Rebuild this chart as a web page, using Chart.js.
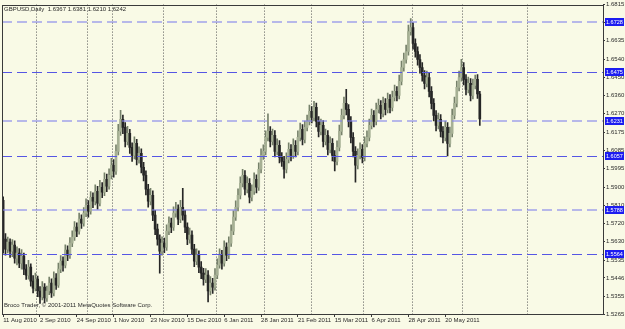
<!DOCTYPE html>
<html>
<head>
<meta charset="utf-8">
<script src="https://cdn.jsdelivr.net/npm/chart.js@4.4.0/dist/chart.umd.min.js"></script>
<style>
  html, body { margin: 0; padding: 0; background: #f9fae6; }
</style>
</head>
<body>
<canvas id="chart" width="625" height="329"></canvas>
<script>
// GBPUSD daily bars
const symbolTitle = 'GBPUSD,Daily  1.6367 1.6381 1.6210 1.6242';
const copyrightText = 'Broco Trader, \u00a9 2001-2011 MetaQuotes Software Corp.';

const dateLabels = ['11 Aug 2010', '2 Sep 2010', '24 Sep 2010', '1 Nov 2010', '23 Nov 2010', '15 Dec 2010',
  '6 Jan 2011', '28 Jan 2011', '21 Feb 2011', '15 Mar 2011', '6 Apr 2011', '28 Apr 2011', '20 May 2011'];
const labelEvery = 16;
const totalSlots = 261; // bars + empty shift on the right
const monthStarts = [15, 37, 48, 70, 93, 114, 134, 157, 178, 200, 228];

const priceTicks = [1.6815, 1.6725, 1.6635, 1.6540, 1.6450, 1.6360, 1.6270, 1.6175, 1.6085, 1.5995,
  1.5900, 1.5810, 1.5720, 1.5630, 1.5535, 1.5446, 1.5355, 1.5265];
const levels = [1.6728, 1.6475, 1.6231, 1.6057, 1.5788, 1.5564];

const opens = [
  1.5835, 1.5640, 1.5590, 1.5625, 1.5580, 1.5610, 1.5545, 1.5570, 1.5520, 1.5555,
  1.5490, 1.5460, 1.5500, 1.5430, 1.5395, 1.5440, 1.5380, 1.5350, 1.5400, 1.5345,
  1.5380, 1.5420, 1.5370, 1.5445, 1.5410, 1.5490, 1.5530, 1.5510, 1.5585, 1.5560,
  1.5620, 1.5650, 1.5700, 1.5680, 1.5740, 1.5720, 1.5770, 1.5810, 1.5780, 1.5850,
  1.5830, 1.5880, 1.5820, 1.5900, 1.5875, 1.5940, 1.5905, 1.5960, 1.6010, 1.5980,
  1.6080, 1.6180, 1.6240, 1.6200, 1.6130, 1.6170, 1.6100, 1.6060, 1.6120, 1.6040,
  1.6070, 1.6000, 1.5960, 1.5890, 1.5830, 1.5860, 1.5760, 1.5690, 1.5640, 1.5580,
  1.5620, 1.5600, 1.5680, 1.5720, 1.5700, 1.5770, 1.5790, 1.5740, 1.5800, 1.5760,
  1.5700, 1.5640, 1.5660, 1.5590, 1.5530, 1.5560, 1.5500, 1.5470, 1.5440, 1.5460,
  1.5380, 1.5420, 1.5400, 1.5460, 1.5510, 1.5560, 1.5520, 1.5600, 1.5560, 1.5620,
  1.5680, 1.5750, 1.5800, 1.5860, 1.5920, 1.5960, 1.5890, 1.5920, 1.5850, 1.5880,
  1.5940, 1.5900, 1.5990, 1.6060, 1.6080, 1.6150, 1.6180, 1.6130, 1.6160, 1.6080,
  1.6110, 1.6050, 1.6030, 1.5990, 1.6040, 1.6090, 1.6060, 1.6110, 1.6080, 1.6150,
  1.6190, 1.6140, 1.6200, 1.6230, 1.6280, 1.6250, 1.6300, 1.6230, 1.6180, 1.6210,
  1.6130, 1.6160, 1.6090, 1.6120, 1.6060, 1.6030, 1.6100, 1.6180, 1.6260, 1.6320,
  1.6290, 1.6230, 1.6150, 1.6080, 1.6010, 1.6060, 1.6090, 1.6050, 1.6120, 1.6150,
  1.6210, 1.6260, 1.6230, 1.6290, 1.6310, 1.6270, 1.6320, 1.6290, 1.6340, 1.6300,
  1.6350, 1.6380, 1.6360, 1.6430, 1.6500, 1.6540, 1.6580, 1.6680, 1.6700, 1.6620,
  1.6580, 1.6540, 1.6500, 1.6460, 1.6420, 1.6450, 1.6380, 1.6320, 1.6260, 1.6210,
  1.6240, 1.6180, 1.6150, 1.6200, 1.6120, 1.6170, 1.6260, 1.6320, 1.6400, 1.6450,
  1.6500, 1.6440, 1.6390, 1.6420, 1.6360, 1.6410, 1.6440, 1.6367
];
const highs = [
  1.5852, 1.5668, 1.5650, 1.5642, 1.5638, 1.5631, 1.5602, 1.5593, 1.5588, 1.5570,
  1.5512, 1.5534, 1.5516, 1.5458, 1.5470, 1.5455, 1.5402, 1.5428, 1.5418, 1.5405,
  1.5450, 1.5441, 1.5476, 1.5468, 1.5520, 1.5558, 1.5552, 1.5612, 1.5606, 1.5648,
  1.5682, 1.5728, 1.5722, 1.5770, 1.5762, 1.5798, 1.5842, 1.5833, 1.5878, 1.5872,
  1.5912, 1.5905, 1.5935, 1.5924, 1.5972, 1.5966, 1.5992, 1.6045, 1.6038, 1.6112,
  1.6215, 1.6285, 1.6262, 1.6224, 1.6205, 1.6190, 1.6122, 1.6152, 1.6140, 1.6102,
  1.6092, 1.6025, 1.5982, 1.5915, 1.5895, 1.5882, 1.5784, 1.5715, 1.5662, 1.5652,
  1.5645, 1.5712, 1.5752, 1.5745, 1.5802, 1.5825, 1.5812, 1.5835, 1.5895, 1.5784,
  1.5722, 1.5695, 1.5682, 1.5614, 1.5592, 1.5582, 1.5528, 1.5494, 1.5492, 1.5482,
  1.5452, 1.5444, 1.5492, 1.5542, 1.5592, 1.5584, 1.5632, 1.5622, 1.5652, 1.5712,
  1.5782, 1.5832, 1.5892, 1.5952, 1.5990, 1.5984, 1.5952, 1.5944, 1.5912, 1.5972,
  1.5962, 1.6022, 1.6092, 1.6112, 1.6182, 1.6268, 1.6204, 1.6192, 1.6184, 1.6142,
  1.6134, 1.6074, 1.6055, 1.6072, 1.6122, 1.6114, 1.6142, 1.6134, 1.6182, 1.6222,
  1.6214, 1.6232, 1.6262, 1.6312, 1.6304, 1.6330, 1.6322, 1.6254, 1.6242, 1.6234,
  1.6192, 1.6184, 1.6152, 1.6144, 1.6084, 1.6132, 1.6212, 1.6292, 1.6352, 1.6391,
  1.6314, 1.6254, 1.6174, 1.6104, 1.6092, 1.6122, 1.6114, 1.6152, 1.6182, 1.6242,
  1.6292, 1.6284, 1.6322, 1.6342, 1.6334, 1.6352, 1.6344, 1.6372, 1.6364, 1.6382,
  1.6412, 1.6404, 1.6462, 1.6532, 1.6572, 1.6612, 1.6712, 1.6745, 1.6724, 1.6644,
  1.6604, 1.6564, 1.6524, 1.6484, 1.6482, 1.6474, 1.6404, 1.6344, 1.6284, 1.6272,
  1.6264, 1.6204, 1.6232, 1.6224, 1.6202, 1.6292, 1.6352, 1.6432, 1.6482, 1.6541,
  1.6524, 1.6464, 1.6452, 1.6444, 1.6442, 1.6462, 1.6464, 1.6381
];
const lows = [
  1.5570, 1.5560, 1.5571, 1.5548, 1.5552, 1.5520, 1.5511, 1.5497, 1.5490, 1.5462,
  1.5438, 1.5440, 1.5405, 1.5370, 1.5380, 1.5352, 1.5318, 1.5335, 1.5322, 1.5328,
  1.5362, 1.5348, 1.5356, 1.5388, 1.5398, 1.5472, 1.5480, 1.5496, 1.5532, 1.5544,
  1.5602, 1.5634, 1.5652, 1.5665, 1.5694, 1.5705, 1.5752, 1.5750, 1.5765, 1.5798,
  1.5812, 1.5790, 1.5806, 1.5848, 1.5858, 1.5878, 1.5890, 1.5942, 1.5950, 1.5964,
  1.6062, 1.6160, 1.6168, 1.6102, 1.6112, 1.6070, 1.6030, 1.6042, 1.6012, 1.6020,
  1.5972, 1.5932, 1.5862, 1.5800, 1.5812, 1.5732, 1.5662, 1.5610, 1.5470, 1.5560,
  1.5572, 1.5584, 1.5662, 1.5672, 1.5684, 1.5750, 1.5712, 1.5722, 1.5735, 1.5672,
  1.5612, 1.5620, 1.5562, 1.5502, 1.5512, 1.5472, 1.5442, 1.5410, 1.5422, 1.5325,
  1.5360, 1.5368, 1.5384, 1.5442, 1.5494, 1.5490, 1.5504, 1.5532, 1.5542, 1.5604,
  1.5662, 1.5734, 1.5782, 1.5842, 1.5902, 1.5862, 1.5872, 1.5822, 1.5832, 1.5864,
  1.5872, 1.5884, 1.5972, 1.6040, 1.6062, 1.6132, 1.6102, 1.6112, 1.6052, 1.6062,
  1.6022, 1.6004, 1.5946, 1.5972, 1.6022, 1.6032, 1.6044, 1.6052, 1.6062, 1.6132,
  1.6112, 1.6122, 1.6182, 1.6212, 1.6222, 1.6232, 1.6202, 1.6152, 1.6162, 1.6102,
  1.6112, 1.6062, 1.6072, 1.6032, 1.5982, 1.6012, 1.6082, 1.6162, 1.6242, 1.6262,
  1.6202, 1.6122, 1.6052, 1.5925, 1.5992, 1.6042, 1.6022, 1.6032, 1.6102, 1.6132,
  1.6192, 1.6202, 1.6212, 1.6272, 1.6242, 1.6252, 1.6262, 1.6272, 1.6272, 1.6282,
  1.6332, 1.6332, 1.6342, 1.6412, 1.6482, 1.6522, 1.6562, 1.6662, 1.6592, 1.6552,
  1.6512, 1.6472, 1.6432, 1.6392, 1.6402, 1.6352, 1.6292, 1.6232, 1.6182, 1.6192,
  1.6152, 1.6122, 1.6132, 1.6057, 1.6102, 1.6152, 1.6242, 1.6302, 1.6382, 1.6432,
  1.6412, 1.6362, 1.6372, 1.6332, 1.6342, 1.6392, 1.6345, 1.6210
];
const closes = [
  1.5640, 1.5590, 1.5625, 1.5580, 1.5610, 1.5545, 1.5570, 1.5520, 1.5555, 1.5490,
  1.5460, 1.5500, 1.5430, 1.5395, 1.5440, 1.5380, 1.5350, 1.5400, 1.5345, 1.5380,
  1.5420, 1.5370, 1.5445, 1.5410, 1.5490, 1.5530, 1.5510, 1.5585, 1.5560, 1.5620,
  1.5650, 1.5700, 1.5680, 1.5740, 1.5720, 1.5770, 1.5810, 1.5780, 1.5850, 1.5830,
  1.5880, 1.5820, 1.5900, 1.5875, 1.5940, 1.5905, 1.5960, 1.6010, 1.5980, 1.6080,
  1.6180, 1.6240, 1.6200, 1.6130, 1.6170, 1.6100, 1.6060, 1.6120, 1.6040, 1.6070,
  1.6000, 1.5960, 1.5890, 1.5830, 1.5860, 1.5760, 1.5690, 1.5640, 1.5580, 1.5620,
  1.5600, 1.5680, 1.5720, 1.5700, 1.5770, 1.5790, 1.5740, 1.5800, 1.5760, 1.5700,
  1.5640, 1.5660, 1.5590, 1.5530, 1.5560, 1.5500, 1.5470, 1.5440, 1.5460, 1.5380,
  1.5420, 1.5400, 1.5460, 1.5510, 1.5560, 1.5520, 1.5600, 1.5560, 1.5620, 1.5680,
  1.5750, 1.5800, 1.5860, 1.5920, 1.5960, 1.5890, 1.5920, 1.5850, 1.5880, 1.5940,
  1.5900, 1.5990, 1.6060, 1.6080, 1.6150, 1.6180, 1.6130, 1.6160, 1.6080, 1.6110,
  1.6050, 1.6030, 1.5990, 1.6040, 1.6090, 1.6060, 1.6110, 1.6080, 1.6150, 1.6190,
  1.6140, 1.6200, 1.6230, 1.6280, 1.6250, 1.6300, 1.6230, 1.6180, 1.6210, 1.6130,
  1.6160, 1.6090, 1.6120, 1.6060, 1.6030, 1.6100, 1.6180, 1.6260, 1.6320, 1.6290,
  1.6230, 1.6150, 1.6080, 1.6010, 1.6060, 1.6090, 1.6050, 1.6120, 1.6150, 1.6210,
  1.6260, 1.6230, 1.6290, 1.6310, 1.6270, 1.6320, 1.6290, 1.6340, 1.6300, 1.6350,
  1.6380, 1.6360, 1.6430, 1.6500, 1.6540, 1.6580, 1.6680, 1.6700, 1.6620, 1.6580,
  1.6540, 1.6500, 1.6460, 1.6420, 1.6450, 1.6380, 1.6320, 1.6260, 1.6210, 1.6240,
  1.6180, 1.6150, 1.6200, 1.6120, 1.6170, 1.6260, 1.6320, 1.6400, 1.6450, 1.6500,
  1.6440, 1.6390, 1.6420, 1.6360, 1.6410, 1.6440, 1.6367, 1.6242
];

const bgColor = '#f9fae6';
const frameColor = '#3a3a3a';
const textColor = '#2a2a2a';
const bullBody = '#a6b094';
const bullWick = '#76816a';
const bearBody = '#262626';
const bearWick = '#262626';
const smallFont = '"Liberation Sans", Arial, sans-serif';

const slotLabels = Array.from({ length: totalSlots }, (_, i) => i);
const isBull = closes.map((c, i) => c >= opens[i]);

const mt4Plugin = {
  id: 'mt4',
  beforeDraw(chart) {
    const ctx = chart.ctx;
    ctx.save();
    ctx.fillStyle = bgColor;
    ctx.fillRect(0, 0, chart.width, chart.height);
    ctx.restore();
  },
  beforeDatasetsDraw(chart) {
    const { ctx, chartArea: a, scales: { x } } = chart;
    ctx.save();
    // period separators
    ctx.strokeStyle = '#555';
    ctx.lineWidth = 1;
    ctx.setLineDash([1, 2]);
    monthStarts.forEach(idx => {
      const px = Math.round(x.getPixelForValue(idx) - 1.2) + 0.5;
      ctx.beginPath();
      ctx.moveTo(px, a.top);
      ctx.lineTo(px, a.bottom);
      ctx.stroke();
    });
    ctx.restore();
  },
  afterDatasetsDraw(chart) {
    const { ctx, chartArea: a, scales: { y } } = chart;
    ctx.save();
    // horizontal levels
    levels.forEach((lv, i) => {
      const py = Math.round(y.getPixelForValue(lv));
      const pale = i % 2 === 0;
      ctx.strokeStyle = pale ? 'rgba(130,130,235,0.55)' : '#5656e4';
      ctx.lineWidth = pale ? 2 : 1;
      ctx.setLineDash([10, 5]);
      ctx.beginPath();
      ctx.moveTo(a.left, pale ? py : py + 0.5);
      ctx.lineTo(a.right, pale ? py : py + 0.5);
      ctx.stroke();
    });
    ctx.setLineDash([]);
    // frame
    ctx.strokeStyle = frameColor;
    ctx.lineWidth = 1;
    ctx.strokeRect(Math.round(a.left) + 0.5, Math.round(a.top) + 0.5,
      Math.round(a.right - a.left), Math.round(a.bottom - a.top));
    // texts
    ctx.fillStyle = textColor;
    ctx.font = '6px ' + smallFont;
    ctx.textBaseline = 'top';
    ctx.textAlign = 'left';
    ctx.fillText(symbolTitle, 4, 6);
    ctx.fillText(copyrightText, 4, 302);
    ctx.restore();
  },
  afterDraw(chart) {
    const { ctx, chartArea: a, scales: { y } } = chart;
    ctx.save();
    ctx.font = '5.5px ' + smallFont;
    ctx.textBaseline = 'middle';
    ctx.textAlign = 'left';
    levels.forEach(lv => {
      const py = Math.round(y.getPixelForValue(lv));
      ctx.fillStyle = '#1c1cf0';
      ctx.fillRect(a.right + 2, py - 4, 19, 8);
      ctx.fillStyle = '#ffffff';
      ctx.fillText(lv.toFixed(4), a.right + 3, py + 0.5);
    });
    ctx.restore();
  }
};

new Chart(document.getElementById('chart'), {
  type: 'bar',
  data: {
    labels: slotLabels,
    datasets: [
      {
        label: 'wick',
        data: highs.map((h, i) => [lows[i], h]),
        backgroundColor: isBull.map(b => b ? bullWick : bearWick),
        barThickness: 1,
        grouped: false,
        order: 2
      },
      {
        label: 'body',
        data: opens.map((o, i) => [Math.min(o, closes[i]), Math.max(o, closes[i])]),
        backgroundColor: isBull.map(b => b ? bullBody : bearBody),
        barThickness: 2,
        grouped: false,
        order: 1
      }
    ]
  },
  options: {
    responsive: false,
    animation: false,
    events: [],
    layout: { padding: { top: 3, left: 2, right: 0, bottom: 0 } },
    plugins: { legend: { display: false }, tooltip: { enabled: false } },
    scales: {
      x: {
        offset: true,
        grid: {
          drawOnChartArea: false,
          drawTicks: true,
          tickLength: 3,
          offset: false,
          color: ctx => (ctx.index % labelEvery === 0 && ctx.index / labelEvery < dateLabels.length) ? frameColor : 'rgba(0,0,0,0)'
        },
        border: { display: true, color: frameColor },
        ticks: {
          autoSkip: false,
          maxRotation: 0,
          minRotation: 0,
          align: 'start',
          padding: 0,
          color: textColor,
          font: { family: smallFont, size: 6 },
          callback: (v, i) => (i % labelEvery === 0 && i / labelEvery < dateLabels.length) ? dateLabels[i / labelEvery] : ''
        },
        afterFit: s => { s.height = 15; }
      },
      y: {
        position: 'right',
        min: 1.5265,
        max: 1.6815,
        grid: { drawOnChartArea: false, drawTicks: true, tickLength: 2, color: frameColor },
        border: { display: true, color: frameColor },
        afterBuildTicks: s => { s.ticks = priceTicks.map(v => ({ value: v })); },
        ticks: {
          padding: 1,
          color: textColor,
          font: { family: smallFont, size: 6 },
          callback: v => v.toFixed(4)
        },
        afterFit: s => { s.width = 22; }
      }
    }
  },
  plugins: [mt4Plugin]
});
</script>
</body>
</html>
